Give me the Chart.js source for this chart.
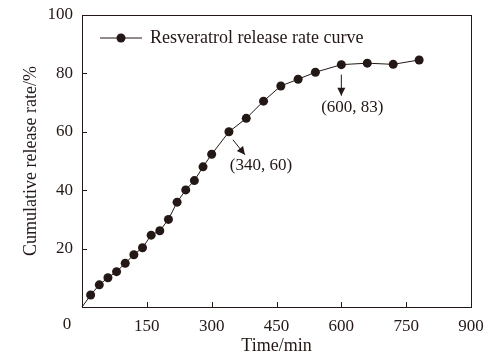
<!DOCTYPE html>
<html>
<head>
<meta charset="utf-8">
<script src="https://cdn.jsdelivr.net/npm/chart.js@4/dist/chart.umd.min.js"></script>
<style>
html,body{margin:0;padding:0;background:#fff;}
#wrap{width:499px;height:362px;position:relative;}
</style>
</head>
<body>
<div id="wrap"><canvas id="c" width="499" height="362"></canvas></div>
<script>
const timeMin = [0,20,40,60,80,100,120,140,160,180,200,220,240,260,280,300,340,380,420,460,500,540,600,660,720,780];
const releaseRate = [0,4.1,7.6,10.0,12.1,15.0,17.9,20.3,24.6,26.1,30.0,35.9,40.1,43.3,48.0,52.3,60,64.6,70.5,75.7,78.0,80.4,83,83.5,83.1,84.6];
const xTicks = [0,150,300,450,600,750,900];
const yTicks = [0,20,40,60,80,100];
const seriesName = 'Resveratrol release rate curve';
const annotations = [
  {x:340, y:60, text:'(340, 60)'},
  {x:600, y:83, text:'(600, 83)'}
];

const INK = '#231815';
const FONT = '"Liberation Serif", "Times New Roman", serif';

const decor = {
  id:'decor',
  afterDraw(chart){
    const ctx = chart.ctx, a = chart.chartArea;
    const xs = chart.scales.x, ys = chart.scales.y;
    ctx.save();
    ctx.strokeStyle = INK; ctx.lineWidth = 1;
    // box
    ctx.strokeRect(Math.round(a.left)+0.5, Math.round(a.top)+0.5, Math.round(a.right-a.left), Math.round(a.bottom-a.top));
    // inward ticks
    ctx.beginPath();
    xTicks.forEach(v=>{ if(v===0||v===900) return; const px=Math.round(xs.getPixelForValue(v))+0.5; ctx.moveTo(px,a.bottom); ctx.lineTo(px,a.bottom-5); });
    yTicks.forEach(v=>{ if(v===0||v===100) return; const py=Math.round(ys.getPixelForValue(v))+0.5; ctx.moveTo(a.left,py); ctx.lineTo(a.left+5,py); });
    ctx.stroke();
    // "0" label
    ctx.fillStyle = INK;
    ctx.font = '17px ' + FONT;
    ctx.textAlign='center'; ctx.textBaseline='middle';
    ctx.fillText(String(xTicks[0]), a.left-15, a.bottom+18);
    // legend
    const ly = a.top + 23, lx = a.left + 18;
    ctx.beginPath(); ctx.moveTo(lx, ly); ctx.lineTo(lx+42, ly); ctx.stroke();
    ctx.beginPath(); ctx.arc(lx+21, ly, 4.5, 0, Math.PI*2); ctx.fill();
    ctx.font = '18px ' + FONT;
    ctx.textAlign='left';
    ctx.fillText(seriesName, lx+50, ly);
    // annotations
    const arrow=(x1,y1,x2,y2)=>{
      ctx.beginPath(); ctx.moveTo(x1,y1); ctx.lineTo(x2,y2); ctx.stroke();
      const ang=Math.atan2(y2-y1,x2-x1), L=8, W=4;
      ctx.beginPath();
      ctx.moveTo(x2,y2);
      ctx.lineTo(x2-L*Math.cos(ang)+W*Math.sin(ang), y2-L*Math.sin(ang)-W*Math.cos(ang));
      ctx.lineTo(x2-L*Math.cos(ang)-W*Math.sin(ang), y2-L*Math.sin(ang)+W*Math.cos(ang));
      ctx.closePath(); ctx.fill();
    };
    ctx.font = '17px ' + FONT; ctx.textAlign='center';
    const p0 = annotations[0], px0 = xs.getPixelForValue(p0.x), py0 = ys.getPixelForValue(p0.y);
    arrow(px0+4, py0+8, px0+16, py0+23);
    ctx.fillText(p0.text, px0+32, py0+34);
    const p1 = annotations[1], px1 = xs.getPixelForValue(p1.x), py1 = ys.getPixelForValue(p1.y);
    arrow(px1, py1+10, px1, py1+31);
    ctx.fillText(p1.text, px1+11, py1+43);
    ctx.restore();
  }
};

new Chart(document.getElementById('c'), {
  type:'line',
  data:{
    datasets:[{
      label: seriesName,
      data: timeMin.map((t,i)=>({x:t, y:releaseRate[i]})),
      borderColor: INK, backgroundColor: INK,
      borderWidth: 1,
      pointRadius: timeMin.map(t=> t===0 ? 0 : 4.5),
      pointBackgroundColor: INK, pointBorderColor: INK, pointBorderWidth: 0,
      tension: 0, clip: false
    }]
  },
  options:{
    responsive:false, animation:false, devicePixelRatio:1,
    layout:{padding:{top:15,right:28,left:0,bottom:0}},
    plugins:{legend:{display:false}, tooltip:{enabled:false}},
    scales:{
      x:{
        type:'linear', min:0, max:900,
        afterBuildTicks(s){ s.ticks = xTicks.map(v=>({value:v})); },
        afterFit(s){ s.height = 55; s.paddingLeft = 0; s.paddingRight = 0; },
        grid:{display:false, drawTicks:false},
        border:{display:true, color:INK, width:1},
        ticks:{color:INK, font:{family:FONT, size:17}, padding:9, maxRotation:0, autoSkip:false,
          callback:(v)=> v===0 ? '' : String(v)},
        title:{display:true, text:'Time/min', color:INK, font:{family:FONT, size:18}, padding:{top:0,bottom:5}}
      },
      y:{
        min:0, max:100,
        afterBuildTicks(s){ s.ticks = yTicks.map(v=>({value:v})); },
        afterFit(s){ s.width = 82; s.paddingTop = 0; s.paddingBottom = 0; },
        grid:{display:false, drawTicks:false},
        border:{display:true, color:INK, width:1},
        ticks:{color:INK, font:{family:FONT, size:17}, padding:9,
          callback:(v)=> v===0 ? '' : String(v)},
        title:{display:true, text:'Cumulative release rate/%', color:INK, font:{family:FONT, size:18}, padding:{top:20,bottom:0}}
      }
    }
  },
  plugins:[decor]
});
</script>
</body>
</html>
